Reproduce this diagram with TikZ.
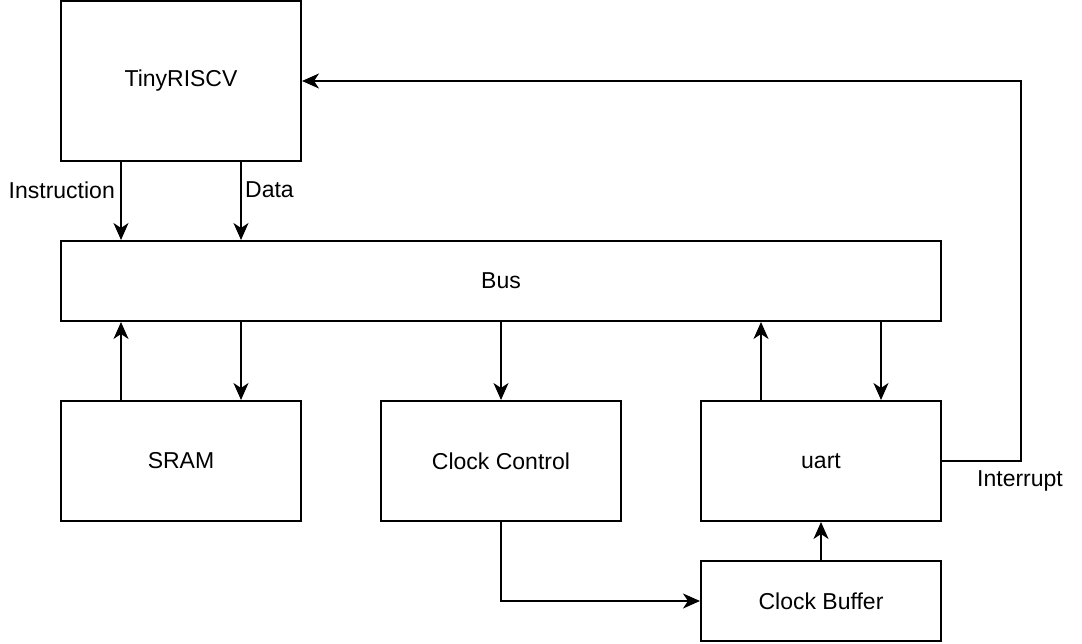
\documentclass[tikz,border=0pt]{standalone}
\usepackage{fontspec}
\setmainfont{Liberation Sans}
\usetikzlibrary{arrows.meta}
\begin{document}
\begin{tikzpicture}[x=1pt,y=-1pt,
  blk/.style={draw=black,line width=2pt,fill=white,inner sep=0pt,font=\fontsize{23}{27}\selectfont},
  con/.style={line width=2pt,-{Stealth[length=17pt,width=15pt,inset=5pt]}},
  lbl/.style={font=\fontsize{23}{27}\selectfont,inner sep=0pt}]
\useasboundingbox (0,0) rectangle (1082,644);
\node[blk,minimum width=240pt,minimum height=160pt] (cpu) at (181,81) {TinyRISCV};
\node[blk,minimum width=880pt,minimum height=80pt] (bus) at (501,281) {Bus};
\node[blk,minimum width=240pt,minimum height=120pt] (sram) at (181,461) {SRAM};
\node[blk,minimum width=240pt,minimum height=120pt] (cc) at (501,461) {Clock Control};
\node[blk,minimum width=240pt,minimum height=120pt] (uart) at (821,461) {uart};
\node[blk,minimum width=240pt,minimum height=80pt] (cb) at (821,601) {Clock Buffer};
\coordinate (c1) at (1021,461);
\coordinate (c2) at (1021,81);
\coordinate (c3) at (501,601);
% cpu -> bus
\draw[con] (cpu.south -| 121,0) -- (bus.north -| 121,0);
\draw[con] (cpu.south -| 241,0) -- (bus.north -| 241,0);
\node[lbl,anchor=east] (ilbl) at (115,190) {Instruction};
\node[lbl,anchor=west] (dlbl) at (245,190) {Data};
% sram
\draw[con] (sram.north -| 121,0) -- (bus.south -| 121,0);
\draw[con] (bus.south -| 241,0) -- (sram.north -| 241,0);
% clock control
\draw[con] (bus.south -| cc.north) -- (cc.north);
% uart
\draw[con] (uart.north -| 761,0) -- (bus.south -| 761,0);
\draw[con] (bus.south -| 881,0) -- (uart.north -| 881,0);
% interrupt
\draw[con] (uart.east) -- (c1) -- (c2) -- (cpu.east);
\node[lbl] (irq) at (1020,481) {Interrupt};
% clock control -> buffer
\draw[con] (cc.south) -- (c3) -- (cb.west);
\draw[con] (cb.north) -- (uart.south);
\end{tikzpicture}
\end{document}
